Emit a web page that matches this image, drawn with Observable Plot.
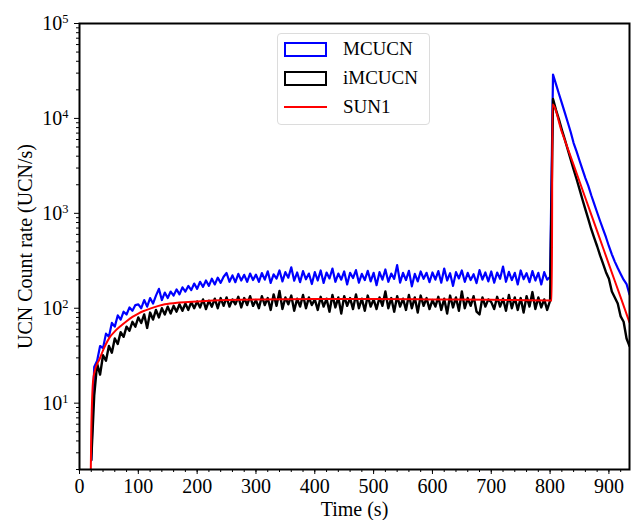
<!DOCTYPE html>
<html>
<head>
<meta charset="utf-8">
<script src="https://cdn.jsdelivr.net/npm/d3@7"></script>
<script src="https://cdn.jsdelivr.net/npm/@observablehq/plot@0.6"></script>
<style>
  html, body { margin: 0; padding: 0; background: white; }
  #wrap { position: relative; width: 633px; height: 520px; font-family: 'Liberation Serif', 'Times New Roman', serif; }
  #legend { position: absolute; left: 277px; top: 33px; width: 153px; height: 92px; border: 1px solid #dcdcdc; border-radius: 4px; background: white; box-sizing: border-box; }
  .row { position: absolute; left: 6px; height: 20px; display: flex; align-items: center; }
  .sw { width: 43px; height: 15px; box-sizing: border-box; }
  .lab { position: absolute; left: 65px; font-size: 19px; line-height: 20px; white-space: nowrap; color: black; font-family: 'Liberation Serif', 'Times New Roman', serif; }
</style>
</head>
<body>
<div id="wrap"></div>
<script>
// Sample times (s) for the two measured histograms
const times = d3.range(20, 936, 5);

// MCUCN (blue) count rates, UCN/s
const mcucn = [
  2.5,24,28,40,38,54,50,70,64,84,76,92,86,102,94,108,
  110,100,122,104,128,112,136,160,122,146,128,150,136,158,140,166,150,172,155,182,160,190,168,196,172,205,178,210,185,215,235,190,222,188,230,196,225,190,232,198,226,
  190,235,200,245,185,228,205,250,192,240,210,270,195,238,188,246,202,232,180,240,
  196,250,185,238,206,262,190,232,200,244,178,236,208,252,186,230,198,248,192,236,
  175,240,200,256,190,232,204,285,186,236,198,248,170,230,192,244,204,236,188,238,
  200,246,186,262,196,234,172,240,206,250,190,236,198,228,184,252,200,238,192,244,
  186,238,204,275,190,242,198,236,178,250,202,234,188,246,196,236,178,240,200,215,
  29000,23000,18200,14500,11500,9100,7200,5500,4500,3600,2900,2350,1950,1550,1260,1020,830,680,560,450,370,310,265,230,200,180,140
];

// iMCUCN (black) count rates, UCN/s
const imcucn = [
  2.5,12,26,20,32,28,40,34,48,42,56,50,64,58,72,64,
  80,70,86,62,90,76,96,80,100,86,104,88,106,92,110,94,112,96,116,100,118,102,124,98,120,104,126,100,128,106,130,104,124,110,132,102,128,108,134,106,122,
  100,134,108,128,96,140,106,152,98,130,110,136,94,126,104,138,100,130,108,124,
  96,132,104,126,92,138,102,130,88,134,106,128,98,140,100,126,94,136,104,124,
  98,130,106,150,100,128,92,134,104,126,96,138,100,130,90,136,106,128,98,122,
  104,132,96,126,88,136,102,130,94,150,100,128,106,134,92,86,130,104,124,116,
  98,132,104,126,94,138,100,130,96,128,90,134,104,148,98,130,102,124,96,120,
  16000,12300,9800,7600,6000,4700,3700,2900,2300,1800,1400,1100,870,680,550,450,360,295,240,205,150,130,112,82,72,48,40
];

// SUN1 (red) simulation curve
const sunT = [19,20,21,23,26,30,34,40,45,51,60,70,80,90,100,108,120,145,170,200,250,300,400,500,600,700,803,804,820,840,860,880,900,920,935];
const sunV = [1.5,5,9,17,22,26,29,36,42,49,57,65,73,81,88,93,99,110,115,118,122,124,125,125,124,123,121,14000,7200,3250,1450,650,290,130,71];

// Axis ticks
const majorX = [0,100,200,300,400,500,600,700,800,900];
const minorX = d3.range(0, 936, 20);
const majorY = [10,100,1000,10000,100000];
const minorY = [2,3,4,5,6,7,8,9,20,30,40,50,60,70,80,90,200,300,400,500,600,700,800,900,2000,3000,4000,5000,6000,7000,8000,9000,20000,30000,40000,50000,60000,70000,80000,90000];

const blueData = times.map((t, i) => ({t, v: mcucn[i]}));
const blackData = times.map((t, i) => ({t, v: imcucn[i]}));
const redData = sunT.map((t, i) => ({t, v: sunV[i]}));

const chart = Plot.plot({
  width: 633,
  height: 520,
  marginLeft: 79,
  marginRight: 4,
  marginTop: 23,
  marginBottom: 51,
  style: {fontFamily: "'Liberation Serif', 'Times New Roman', serif", fontSize: "20px", color: "black", background: "white", overflow: "visible"},
  x: {domain: [0, 935]},
  y: {type: "log", domain: [2, 1e5]},
  marks: [
    Plot.lineY(blueData, {x: "t", y: "v", stroke: "#0000ff", strokeWidth: 2.2, curve: "linear", clip: true}),
    Plot.lineY(blackData, {x: "t", y: "v", stroke: "#000000", strokeWidth: 2.4, curve: "linear", clip: true}),
    Plot.lineY(redData, {x: "t", y: "v", stroke: "#ff0000", strokeWidth: 2, curve: "monotone-x", clip: true}),
    Plot.axisX({ticks: minorX, tickSize: 3, tickFormat: () => "", label: null}),
    Plot.axisX({ticks: majorX, tickSize: 5, tickPadding: 4, tickFormat: d => String(d), label: "Time (s)", labelAnchor: "center", labelArrow: "none", labelOffset: 46}),
    Plot.axisY({ticks: minorY, tickSize: 3, tickFormat: () => "", label: null}),
    Plot.axisY({ticks: majorY, tickSize: 5, tickPadding: 6, tickFormat: d => "10^" + Math.round(Math.log10(d)), label: "UCN Count rate (UCN/s)", labelAnchor: "center", labelArrow: "none", labelOffset: 62}),
    Plot.frame({stroke: "black", strokeWidth: 2})
  ]
});

// Render exponents as superscripts
const svgns = "http://www.w3.org/2000/svg";
chart.querySelectorAll("text").forEach(t => {
  const s = t.textContent;
  if (/^10\^-?\d+$/.test(s)) {
    const e = s.split("^")[1];
    t.textContent = "10";
    const ts = document.createElementNS(svgns, "tspan");
    ts.setAttribute("dy", "-0.55em");
    ts.setAttribute("font-size", "0.62em");
    ts.textContent = e;
    t.appendChild(ts);
  }
});

const wrap = document.getElementById("wrap");
wrap.appendChild(chart);

// Legend
const legend = document.createElement("div");
legend.id = "legend";
const series = [
  {name: "MCUCN", kind: "box", color: "#0000ff"},
  {name: "iMCUCN", kind: "box", color: "#000000"},
  {name: "SUN1", kind: "line", color: "#ff0000"}
];
series.forEach((s, i) => {
  const row = document.createElement("div");
  row.className = "row";
  row.style.top = (5 + i * 29) + "px";
  const sw = document.createElement("div");
  sw.className = "sw";
  if (s.kind === "box") {
    sw.style.border = "2.5px solid " + s.color;
  } else {
    sw.style.height = "2px";
    sw.style.background = s.color;
  }
  row.appendChild(sw);
  legend.appendChild(row);
  const lab = document.createElement("div");
  lab.className = "lab";
  lab.style.top = (5 + i * 29) + "px";
  lab.textContent = s.name;
  legend.appendChild(lab);
});
wrap.appendChild(legend);
</script>
</body>
</html>
